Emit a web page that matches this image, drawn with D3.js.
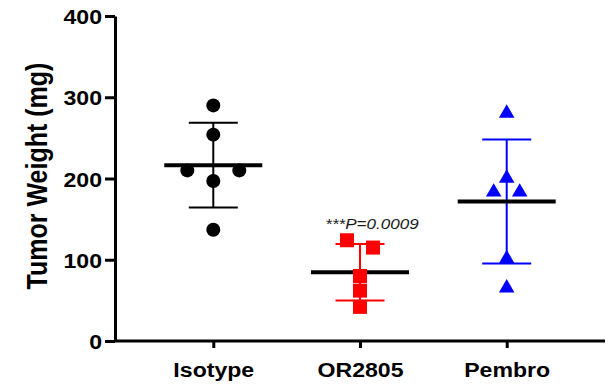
<!DOCTYPE html>
<html>
<head>
<meta charset="utf-8">
<script src="https://cdn.jsdelivr.net/npm/d3@7"></script>
<style>
  html, body { margin: 0; padding: 0; background: #fff; }
  svg { display: block; }
  text { font-family: "Liberation Sans", Arial, Helvetica, sans-serif; }
</style>
</head>
<body>
<svg id="chart" width="615" height="384"></svg>
<script>
// Tumor weight per mouse, by treatment group
const categories = ["Isotype", "OR2805", "Pembro"];
const isotypeValues = [290, 254, 210, 210, 197, 137];
const or2805Values = [124, 115, 80, 62, 42];
const pembroValues = [283, 203, 186, 186, 104, 68];
// horizontal slot of each point inside its column (scatter spread)
const isotypeSlots = [0, 0, -2, 2, 0, 0];
const or2805Slots = [-1, 1, 0, 0, 0];
const pembroSlots = [0, 0, -1, 1, 0, 0];
const yTicks = [0, 100, 200, 300, 400];
const pLabel = "***P=0.0009";

const groups = [
  { name: categories[0], values: isotypeValues, slots: isotypeSlots, color: "#000000", shape: "circle" },
  { name: categories[1], values: or2805Values, slots: or2805Slots, color: "#ff0000", shape: "square" },
  { name: categories[2], values: pembroValues, slots: pembroSlots, color: "#0000ff", shape: "triangle" }
];

const svg = d3.select("#chart");
const plotLeft = 115, plotRight = 605, plotTop = 16, plotBottom = 341;
const stretch = 1.1; // labels use a slightly widened face

const x = d3.scalePoint().domain(categories).range([plotLeft, plotRight]).padding(0.67);
const y = d3.scaleLinear().domain([0, 400]).range([plotBottom, plotTop]);

// axes
const yAxis = svg.append("g")
  .attr("transform", `translate(${plotLeft},0)`)
  .call(d3.axisLeft(y).tickValues(yTicks).tickSize(10).tickPadding(3).tickSizeOuter(0));
const xAxis = svg.append("g")
  .attr("transform", `translate(0,${plotBottom})`)
  .call(d3.axisBottom(x).tickSize(7).tickSizeOuter(0));
xAxis.select(".domain").attr("d", `M${plotLeft},0H${plotRight}`);

[yAxis, xAxis].forEach(g => {
  g.selectAll(".domain, .tick line").attr("stroke", "#000").attr("stroke-width", 3);
  g.selectAll("text")
    .attr("fill", "#000")
    .attr("font-weight", "bold")
    .attr("font-size", 21)
    .attr("transform", `scale(${stretch},1)`);
});
yAxis.selectAll("text").attr("x", -13 / stretch).attr("dy", "0.36em");
xAxis.selectAll("text").attr("y", 36).attr("dy", 0);

// y title
svg.append("text")
  .attr("transform", `translate(46.5,176) rotate(-90) scale(1,1.15)`)
  .attr("text-anchor", "middle")
  .attr("font-weight", "bold")
  .attr("font-size", 25)
  .text("Tumor Weight (mg)");

const slotWidth = 13;
const meanHalf = 49, capHalf = 24.5;

groups.forEach(g => {
  const cx = x(g.name);
  const mean = d3.mean(g.values);
  const sd = d3.deviation(g.values);
  const layer = svg.append("g");

  // SD error bar
  layer.append("line")
    .attr("x1", cx).attr("x2", cx)
    .attr("y1", y(mean + sd)).attr("y2", y(mean - sd))
    .attr("stroke", g.color).attr("stroke-width", 2);
  [mean + sd, mean - sd].forEach(v => {
    layer.append("line")
      .attr("x1", cx - capHalf).attr("x2", cx + capHalf)
      .attr("y1", y(v)).attr("y2", y(v))
      .attr("stroke", g.color).attr("stroke-width", 2);
  });

  // mean line
  layer.append("line")
    .attr("x1", cx - meanHalf).attr("x2", cx + meanHalf)
    .attr("y1", y(mean)).attr("y2", y(mean))
    .attr("stroke", "#000").attr("stroke-width", 4);

  // points
  const symType = g.shape === "circle" ? d3.symbolCircle
    : g.shape === "square" ? d3.symbolSquare : d3.symbolTriangle;
  const symSize = g.shape === "circle" ? Math.PI * 49 : g.shape === "square" ? 196 : 105;
  const sym = d3.symbol().type(symType).size(symSize);
  // d3 places a triangle on its centroid; move it so its box is centred on the value
  const triShift = g.shape === "triangle" ? Math.sqrt(symSize / (3 * Math.sqrt(3))) / 2 : 0;
  layer.selectAll("path.pt")
    .data(g.values)
    .join("path")
    .attr("class", "pt")
    .attr("d", sym)
    .attr("fill", g.color)
    .attr("transform", (d, i) => `translate(${cx + g.slots[i] * slotWidth},${y(d) + triShift})`);
});

// significance label above OR2805
svg.append("g")
  .attr("transform", `translate(${x(categories[1]) + 12},229) scale(${stretch},1)`)
  .append("text")
  .attr("text-anchor", "middle")
  .attr("font-style", "italic")
  .attr("font-size", 15.5)
  .attr("fill", "#1a1a1a")
  .text(pLabel);
</script>
</body>
</html>
